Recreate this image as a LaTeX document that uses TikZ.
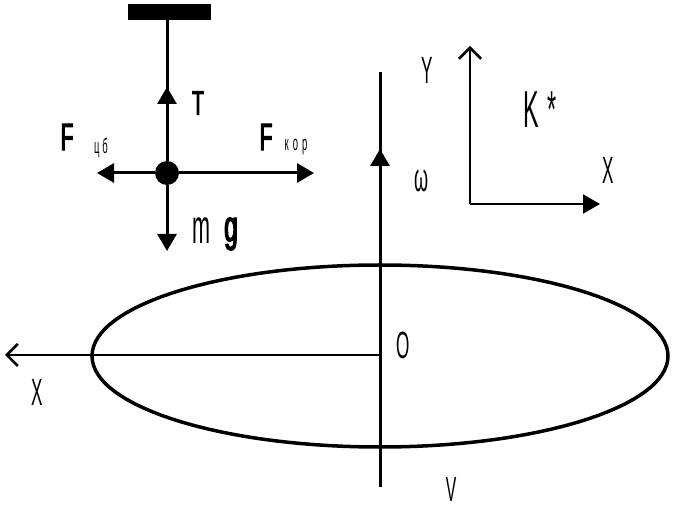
\documentclass[tikz,border=0pt]{standalone}
\usepackage{fontspec}
\setmainfont{Liberation Sans}
\newfontfamily\cond[FakeStretch=0.45]{Liberation Sans}
\newfontfamily\bcond[FakeStretch=0.55,FakeBold=3]{Liberation Sans}
\usetikzlibrary{arrows.meta,shapes.geometric}
\begin{document}
\begin{tikzpicture}[x=1pt,y=-1pt,
  thick line/.style={line width=3pt},
  thin line/.style={line width=2pt},
  filltip/.style={-{Triangle[length=17pt,width=19pt]}},
  opentip/.style={-{Straight Barb[length=11pt,width=22pt,line width=2.6pt]}},
  lbl/.style={inner sep=0pt,font=\cond},
  blbl/.style={inner sep=0pt,font=\bcond}]
\useasboundingbox[fill=white] (0,0) rectangle (673,510);
% pendulum
\node[fill=black,minimum width=83pt,minimum height=16pt,inner sep=0pt] (bar) at (169.5,12) {};
\node[circle,fill=black,minimum size=24pt,inner sep=0pt] (ball) at (167,173) {};
\coordinate (tT) at (167,87);
\coordinate (tG) at (167,251);
\coordinate (tL) at (97,173);
\coordinate (tR) at (314,173);
\draw[thick line] (bar.south -| ball) -- (ball);
\draw[thick line,filltip] (ball) -- (tT);
\draw[thick line,filltip] (ball) -- (tG);
\draw[thick line,filltip] (ball) -- (tL);
\draw[thick line,filltip] (ball) -- (tR);
\node[blbl,font=\bcond\fontsize{34}{34}\selectfont] (T) at (198,103) {T};
\node[blbl,font=\bcond\fontsize{38}{38}\selectfont] (F1) at (67,137) {F};
\node[lbl,font=\cond\fontsize{21}{21}\selectfont] (s1) at (101,148) {ц\hspace{3pt}б};
\node[blbl,font=\bcond\fontsize{38}{38}\selectfont] (F2) at (266,137) {F};
\node[lbl,font=\cond\fontsize{21}{21}\selectfont] (s2) at (296,147) {к\hspace{4pt}о\hspace{4pt}р};
\node[lbl,font=\cond\fontsize{48}{48}\selectfont] (m) at (201,231) {m};
\node[blbl,font=\bcond\fontsize{44}{44}\selectfont] (g) at (231,234) {g};
% rotation axis
\coordinate (vtop) at (380,72);
\coordinate (vbot) at (380,487);
\coordinate (wtip) at (380,149);
\draw[thick line] (vtop) -- (vbot);
\draw[thick line,filltip] (380,200) -- (wtip);
\node[lbl,font=\cond\fontsize{40}{40}\selectfont] (w) at (422,181) {ω};
\node[lbl,font=\cond\fontsize{38}{38}\selectfont] (Y) at (427,70) {Y};
% K* frame
\coordinate (c) at (470,204);
\coordinate (cy) at (470,46);
\coordinate (cx) at (600,204);
\draw[thin line,opentip] (c) -- (cy);
\draw[thin line,filltip] (c) -- (cx);
\node[lbl,font=\cond\fontsize{52}{52}\selectfont] (K) at (540,110) {K\hspace{8pt}*};
\node[lbl,font=\cond\fontsize{38}{38}\selectfont] (X2) at (608,170) {X};
% ellipse
\node[ellipse,draw,line width=3.5pt,minimum width=576pt,minimum height=182pt,inner sep=0pt] (ell) at (380,356) {};
\coordinate (o) at (380,355);
\coordinate (xt) at (5,355);
\draw[line width=2pt,-{Straight Barb[length=11pt,width=22pt,line width=2.6pt]}] (o) -- (xt);
\node[lbl,font=\cond\fontsize{38}{38}\selectfont] (X1) at (37,392) {X};
\node[lbl,font=\cond\fontsize{38}{38}\selectfont] (O) at (403,345) {O};
\node[lbl,font=\cond\fontsize{35}{35}\selectfont] (V) at (451,489) {V};
\end{tikzpicture}
\end{document}
